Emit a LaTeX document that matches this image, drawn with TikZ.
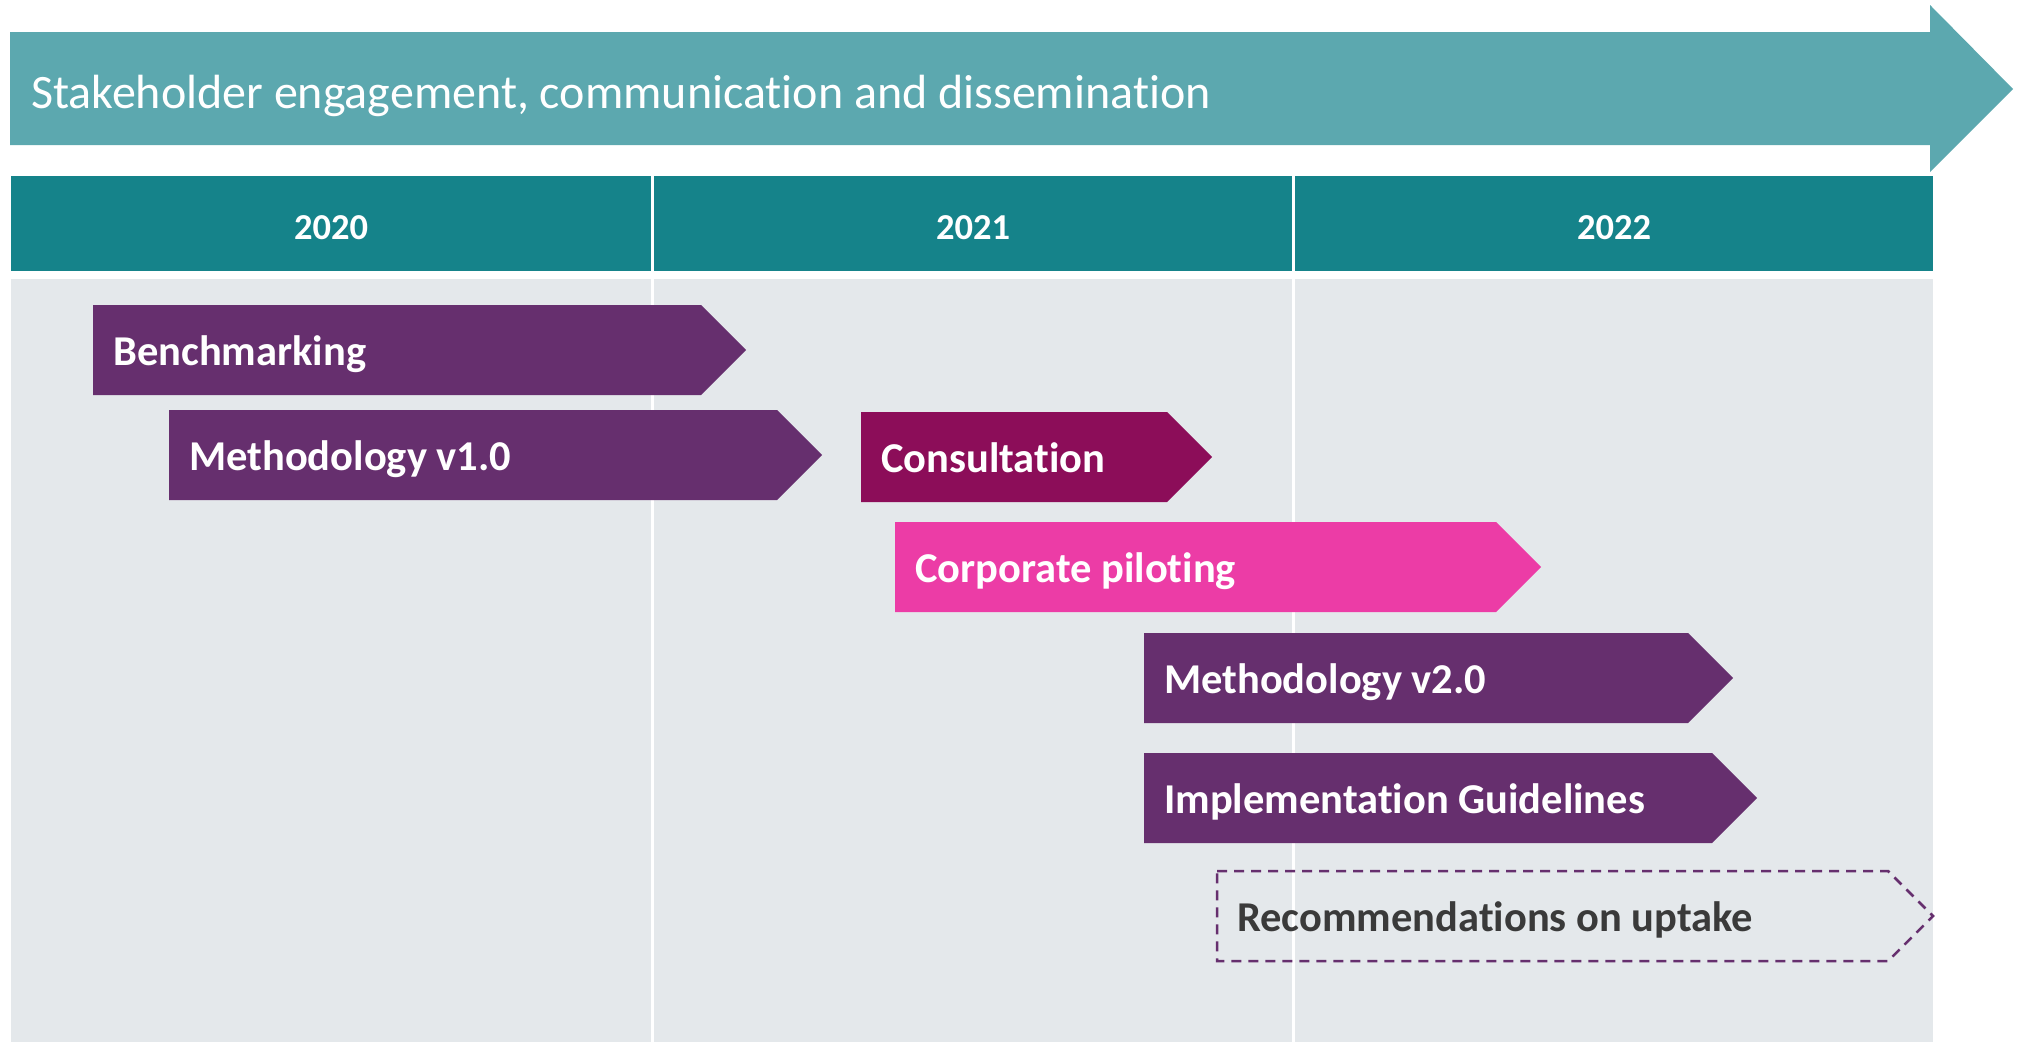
\documentclass[tikz,border=0pt]{standalone}
\usepackage{fontspec}
\setmainfont{Carlito}[Ligatures=NoCommon]
\usetikzlibrary{calc}

\definecolor{bandteal}{HTML}{5CA8AF}
\definecolor{yearteal}{HTML}{15838A}
\definecolor{lanegray}{HTML}{E4E8EB}
\definecolor{taskpurple}{HTML}{662F6E}
\definecolor{taskplum}{HTML}{8C0D59}
\definecolor{taskpink}{HTML}{EC3CA6}
\definecolor{notegray}{HTML}{3A3A3A}

\tikzset{
  tasklabel/.style={anchor=base west,inner sep=0pt,text=white,
    font=\fontsize{42.5}{42.5}\selectfont\bfseries},
  yearlabel/.style={anchor=base,inner sep=0pt,text=white,
    font=\fontsize{36.5}{36.5}\selectfont\bfseries}
}

\begin{document}
\begin{tikzpicture}[x=1pt,y=-1pt]
  \useasboundingbox[fill=white] (0,0) rectangle (2017,1042);

  % engagement band across the whole timeline
  \fill[bandteal] (10,32) -- (1930,32) -- (1930,5) -- (2013,89)
    -- (1930,172) -- (1930,145) -- (10,145) -- cycle;
  \node[anchor=base west,inner sep=0pt,text=white,
    font=\fontsize{48}{48}\selectfont] (band) at (31,108)
    {Stakeholder engagement, communication and dissemination};

  % one column per year
  \foreach[count=\i] \xa/\xb/\yr in {11/651/2020,654/1292/2021,1295/1933/2022} {
    \fill[yearteal] (\xa,176) rectangle (\xb,271);
    \fill[lanegray] (\xa,279) rectangle (\xb,1042);
    \node[yearlabel] (y\yr) at ({(\xa+\xb)/2},239) {\yr};
  }

  % work packages
  \foreach \n/\xa/\xb/\y/\c/\t in {
      bench/93/701/305/taskpurple/Benchmarking,
      methA/169/777/410/taskpurple/Methodology v1.0,
      consult/861/1167/412/taskplum/Consultation,
      pilot/895/1496/522/taskpink/Corporate piloting,
      methB/1144/1688/633/taskpurple/Methodology v2.0,
      guide/1144/1712/753/taskpurple/Implementation Guidelines} {
    \fill[\c] (\xa,\y) -- (\xb,\y) -- (\xb+45,\y+45) -- (\xb,\y+90)
      -- (\xa,\y+90) -- cycle;
    \node[tasklabel] (\n) at (\xa+20,\y+60) {\t};
  }

  % planned follow-up, not started yet
  \draw[taskpurple,line width=2.5pt,dash pattern=on 10pt off 7pt]
    (1217,871) -- (1888,871) -- (1933,916) -- (1888,961) -- (1217,961) -- cycle;
  \node[tasklabel,text=notegray] (uptake) at (1237,931) {Recommendations on uptake};
\end{tikzpicture}
\end{document}
